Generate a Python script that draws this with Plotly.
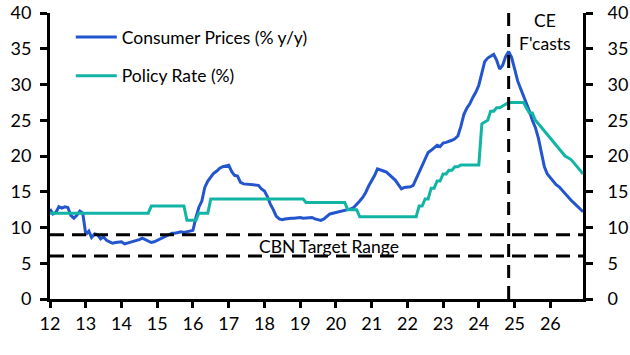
import plotly.graph_objects as go
import pandas as pd

months = pd.date_range("2012-01-01", "2026-12-01", freq="MS")

cpi_2012 = [12.6, 11.9, 12.1, 12.9, 12.7, 12.9, 12.8, 11.7, 11.3, 11.7, 12.3, 12.0]
cpi_2013 = [9.0, 9.5, 8.6, 9.1, 9.0, 8.4, 8.7, 8.2, 8.0, 7.8, 7.9, 8.0]
cpi_2014 = [8.0, 7.7, 7.8, 7.9, 8.0, 8.2, 8.3, 8.5, 8.3, 8.1, 7.9, 8.0]
cpi_2015 = [8.2, 8.4, 8.5, 8.7, 9.0, 9.2, 9.2, 9.3, 9.4, 9.3, 9.4, 9.6]
cpi_2016 = [9.6, 11.4, 12.8, 13.7, 15.6, 16.5, 17.1, 17.6, 17.9, 18.3, 18.5, 18.6]
cpi_2017 = [18.7, 17.8, 17.3, 17.2, 16.3, 16.1, 16.05, 16.0, 16.0, 15.9, 15.9, 15.4]
cpi_2018 = [15.1, 14.3, 13.3, 12.5, 11.6, 11.2, 11.1, 11.2, 11.3, 11.3, 11.3, 11.4]
cpi_2019 = [11.4, 11.3, 11.3, 11.4, 11.4, 11.2, 11.1, 11.0, 11.2, 11.6, 11.9, 12.0]
cpi_2020 = [12.1, 12.2, 12.3, 12.3, 12.4, 12.6, 12.8, 13.2, 13.7, 14.2, 14.9, 15.8]
cpi_2021 = [16.5, 17.3, 18.2, 18.1, 17.9, 17.75, 17.4, 17.0, 16.6, 16.0, 15.4, 15.6]
cpi_2022 = [15.6, 15.7, 15.9, 16.8, 17.7, 18.6, 19.6, 20.5, 20.8, 21.1, 21.5, 21.3]
cpi_2023 = [21.8, 21.9, 22.0, 22.2, 22.4, 22.8, 24.1, 25.8, 26.7, 27.3, 28.2, 28.9]
cpi_2024 = [29.9, 31.7, 33.2, 33.7, 33.95, 34.2, 33.4, 32.15, 32.7, 33.9, 34.6, 33.8]
cpi_2025 = [32.2, 30.5, 29.5, 28.5, 27.3, 26.3, 25.0, 24.0, 22.5, 20.5, 18.5, 17.5]
cpi_2026 = [17.0, 16.5, 16.0, 15.7, 15.2, 14.8, 14.3, 13.8, 13.4, 13.0, 12.6, 12.2]

rate_2012 = [12, 12, 12, 12, 12, 12, 12, 12, 12, 12, 12, 12]
rate_2013 = [12, 12, 12, 12, 12, 12, 12, 12, 12, 12, 12, 12]
rate_2014 = [12, 12, 12, 12, 12, 12, 12, 12, 12, 12, 13, 13]
rate_2015 = [13, 13, 13, 13, 13, 13, 13, 13, 13, 13, 11, 11]
rate_2016 = [11, 11, 12, 12, 12, 12, 14, 14, 14, 14, 14, 14]
rate_2017 = [14, 14, 14, 14, 14, 14, 14, 14, 14, 14, 14, 14]
rate_2018 = [14, 14, 14, 14, 14, 14, 14, 14, 14, 14, 14, 14]
rate_2019 = [14, 14, 13.5, 13.5, 13.5, 13.5, 13.5, 13.5, 13.5, 13.5, 13.5, 13.5]
rate_2020 = [13.5, 13.5, 13.5, 13.5, 12.5, 12.5, 12.5, 12.5, 11.5, 11.5, 11.5, 11.5]
rate_2021 = [11.5, 11.5, 11.5, 11.5, 11.5, 11.5, 11.5, 11.5, 11.5, 11.5, 11.5, 11.5]
rate_2022 = [11.5, 11.5, 11.5, 11.5, 13, 13, 14, 14, 15.5, 15.5, 16.5, 16.5]
rate_2023 = [17.5, 17.5, 18, 18, 18.5, 18.5, 18.75, 18.75, 18.75, 18.75, 18.75, 18.75]
rate_2024 = [18.75, 24.5, 24.75, 25.0, 26.25, 26.25, 26.75, 26.75, 27.0, 27.25, 27.5, 27.5]
rate_2025 = [27.5, 27.5, 27.5, 27.5, 26.75, 26.0, 26.0, 25.0, 24.5, 24.0, 23.5, 23.0]
rate_2026 = [22.5, 22.0, 21.5, 21.0, 20.5, 20.0, 19.75, 19.5, 19.0, 18.5, 18.0, 17.5]

cpi = (cpi_2012 + cpi_2013 + cpi_2014 + cpi_2015 + cpi_2016 + cpi_2017 + cpi_2018
       + cpi_2019 + cpi_2020 + cpi_2021 + cpi_2022 + cpi_2023 + cpi_2024 + cpi_2025 + cpi_2026)
rate = (rate_2012 + rate_2013 + rate_2014 + rate_2015 + rate_2016 + rate_2017 + rate_2018
        + rate_2019 + rate_2020 + rate_2021 + rate_2022 + rate_2023 + rate_2024 + rate_2025 + rate_2026)

year_ticks = pd.date_range("2012-01-01", "2026-01-01", freq="YS")
year_labels = [d.strftime("%y") for d in year_ticks]
y_ticks = [0, 5, 10, 15, 20, 25, 30, 35, 40]

target_low, target_high = 6, 9
forecast_start = "2024-11-01"

BLUE = "#2356CE"
TEAL = "#12B5A5"
FONT = "Lato"
TICK_SIZE = 18
TEXT_SIZE = 17.5

fig = go.Figure()
fig.add_trace(go.Scatter(x=months, y=cpi, name="Consumer Prices (% y/y)", mode="lines",
                         line=dict(color=BLUE, width=3), legendgroup="a"))
fig.add_trace(go.Scatter(x=months, y=rate, name="Policy Rate (%)", mode="lines",
                         line=dict(color=TEAL, width=3), legendgroup="b"))
fig.add_trace(go.Scatter(x=months, y=rate, yaxis="y2", mode="lines", showlegend=False,
                         line=dict(color="rgba(0,0,0,0)", width=0), hoverinfo="skip"))

for v in (target_low, target_high):
    fig.add_shape(type="line", xref="paper", yref="y", x0=0, x1=1, y0=v, y1=v,
                  line=dict(color="black", width=3, dash="14px,8px"))
fig.add_shape(type="line", xref="x", yref="y", x0=forecast_start, x1=forecast_start, y0=40, y1=0,
              line=dict(color="black", width=3, dash="13px,8px"))

fig.add_annotation(x="2019-10-25", y=7.3, xref="x", yref="y", text="CBN Target Range",
                   showarrow=False, font=dict(family=FONT, size=TEXT_SIZE, color="black"))
fig.add_annotation(x="2025-11-05", y=39.0, xref="x", yref="y", text="CE",
                   showarrow=False, font=dict(family=FONT, size=TEXT_SIZE, color="black"))
fig.add_annotation(x="2025-11-05", y=35.8, xref="x", yref="y", text="F'casts",
                   showarrow=False, font=dict(family=FONT, size=TEXT_SIZE, color="black"))

axis_common = dict(range=[0, 40], tickvals=y_ticks, showgrid=False, zeroline=False,
                   showline=True, linecolor="black", linewidth=3, ticks="outside",
                   ticklen=7, tickwidth=3, tickcolor="black", automargin=False,
                   tickfont=dict(family=FONT, size=TICK_SIZE, color="black"))

fig.update_layout(
    width=630, height=355, autosize=False,
    margin=dict(l=50, r=47, t=13, b=56, autoexpand=False),
    paper_bgcolor="white", plot_bgcolor="white",
    font=dict(family=FONT, size=TEXT_SIZE, color="black"),
    xaxis=dict(range=[months[0], months[-1]], tickvals=year_ticks, ticktext=year_labels,
               showgrid=False, zeroline=False, showline=True, linecolor="black", linewidth=3,
               ticks="outside", ticklen=6, tickwidth=3, tickcolor="black", ticklabelstandoff=0,
               automargin=False,
               tickfont=dict(family=FONT, size=TICK_SIZE, color="black")),
    yaxis=dict(side="left", ticklabelstandoff=5, **axis_common),
    yaxis2=dict(side="right", overlaying="y", ticklabelstandoff=11, **axis_common),
    legend=dict(x=0.039, y=0.979, xanchor="left", yanchor="top", bgcolor="rgba(0,0,0,0)",
                itemwidth=41,
                font=dict(family=FONT, size=TEXT_SIZE, color="black"), tracegroupgap=13),
    showlegend=True,
)

fig.write_html("out.html", config={"displayModeBar": False},
               post_script="document.body.style.margin='0';")
